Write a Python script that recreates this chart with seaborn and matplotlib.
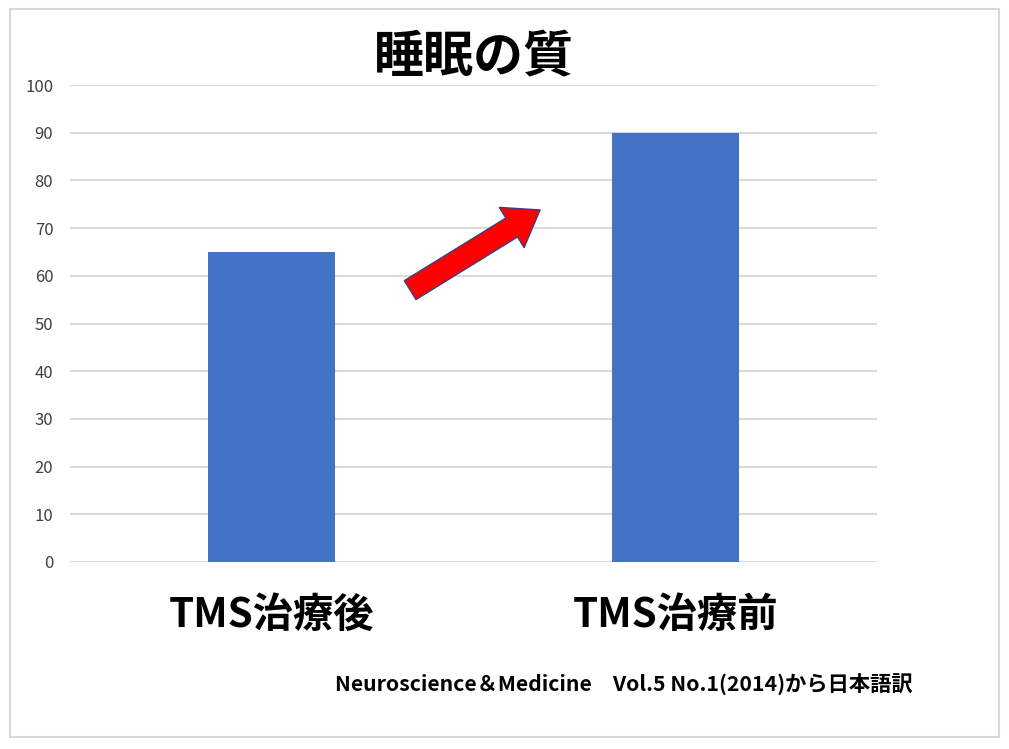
import matplotlib
matplotlib.use("Agg")
import matplotlib.pyplot as plt
import seaborn as sns
import pandas as pd
from matplotlib.patches import FancyArrowPatch, Rectangle

categories = ["TMS治療後", "TMS治療前"]
values = [65, 90]
title = "睡眠の質"
footer = "Neuroscience＆Medicine　Vol.5 No.1(2014)から日本語訳"
yticks = list(range(0, 101, 10))

sns.set_theme(style="white")
plt.rcParams["font.family"] = ["Noto Sans CJK JP", "DejaVu Sans"]

fig = plt.figure(figsize=(10.09, 7.49), dpi=100)
ax = fig.add_axes([70/1009, 1-562/749, (877-70)/1009, (562-85)/749])

df = pd.DataFrame({"cat": categories, "val": values})
sns.barplot(data=df, x="cat", y="val", color="#4472C4", saturation=1, width=0.315,
            linewidth=0, ax=ax)

ax.set_ylim(0, 100)
ax.set_xlim(-0.5, 1.5)
ax.set_yticks(yticks)
ax.yaxis.grid(True, color="#D9D9D9", linewidth=1.5)
ax.set_axisbelow(True)
for s in ax.spines.values():
    s.set_visible(False)
ax.set_xlabel("")
ax.set_ylabel("")
ax.tick_params(axis="y", length=0, pad=12, labelsize=12, labelcolor="#404040")
ax.tick_params(axis="x", length=0, pad=24, labelsize=29, labelcolor="#000000")
for lbl in ax.get_xticklabels():
    lbl.set_fontweight("bold")

# arrow
arr = FancyArrowPatch((0.343, 57.0), (0.665, 73.8),
                      arrowstyle="simple,head_width=34,head_length=24,tail_width=16",
                      mutation_scale=1, facecolor="#FF0000", edgecolor="#3B3F80",
                      linewidth=1.0, shrinkA=0, shrinkB=0, zorder=5)
ax.add_patch(arr)

fig.text(474/1009, 1-58/749, title, ha="center", va="center", fontsize=36,
         fontweight="bold", color="#000000")
fig.text(624/1009, 1-685/749, footer, ha="center", va="center", fontsize=15.3,
         fontweight="bold", color="#000000")

fig.add_artist(Rectangle((10/1009, 1-737/749), (999-10)/1009, (737-9)/749,
                         transform=fig.transFigure, fill=False, edgecolor="#D9D9D9", linewidth=1.5))

fig.savefig("out.png", dpi=100)
